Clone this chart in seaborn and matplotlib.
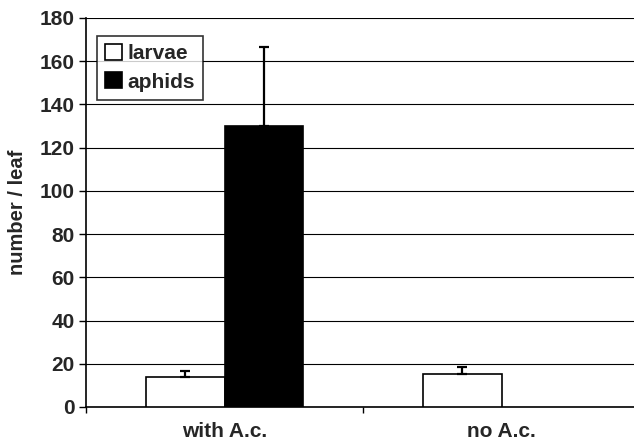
import numpy as np
import pandas as pd
import matplotlib
matplotlib.use("Agg")
import matplotlib.pyplot as plt
import seaborn as sns
from matplotlib.patches import Patch

# data
groups = ["with A.c.", "no A.c."]
series = ["larvae", "aphids"]
larvae_mean = [14, 15.5]
larvae_err = [2.7, 3.2]
aphids_mean = [130, 0]
aphids_err = [36.5, 0]
yticks = list(range(0, 181, 20))

sns.set_theme(style="white")
plt.rcParams["font.family"] = ["Liberation Sans", "DejaVu Sans"]
plt.rcParams["font.weight"] = "bold"

df = pd.DataFrame({
    "group": groups * 2,
    "kind": ["larvae"] * 2 + ["aphids"] * 2,
    "value": larvae_mean + aphids_mean,
})
errs = {"larvae": larvae_err, "aphids": aphids_err}

fig = plt.figure(figsize=(6.34, 4.45), dpi=100)
ax = fig.add_axes([86 / 634, 1 - 407 / 445, 554 / 634, 389 / 445])

sns.barplot(data=df, x="group", y="value", hue="kind", hue_order=series,
            order=groups, palette={"larvae": "white", "aphids": "black"},
            edgecolor="black", linewidth=1.2, width=0.57, errorbar=None,
            legend=False, ax=ax, zorder=3)

# one-sided error bars on top of each bar
for cont, name in zip(ax.containers, series):
    for bar, e in zip(cont, errs[name]):
        if bar.get_height() <= 0:
            bar.set_visible(False)
        if e <= 0:
            continue
        x = bar.get_x() + bar.get_width() / 2
        ax.errorbar(x, bar.get_height(), yerr=[[0], [e]], fmt="none",
                    ecolor="black", elinewidth=1.6, capsize=3.5,
                    capthick=1.6, zorder=4)

ax.set_xlim(-0.5, 1.5)
ax.set_ylim(0, 180)
ax.set_yticks(yticks)
ax.yaxis.grid(True, color="black", linewidth=0.8, zorder=0)
ax.set_axisbelow(True)

for s in ["top", "right"]:
    ax.spines[s].set_visible(False)
for s in ["left", "bottom"]:
    ax.spines[s].set_color("black")
    ax.spines[s].set_linewidth(1.2)

ax.set_xticks([0, 1])
ax.set_xticklabels(groups, fontsize=15, fontweight="bold")
ax.set_xticks([-0.5, 0.5, 1.5], minor=True)
ax.tick_params(axis="x", which="major", length=0, pad=11)
ax.tick_params(axis="x", which="minor", bottom=True, length=4, width=1, color="black")
ax.tick_params(axis="y", left=True, length=5, width=1, color="black",
               labelsize=15, pad=3)
for t in ax.get_yticklabels():
    t.set_fontweight("bold")

ax.set_xlabel("")
ax.set_ylabel("number / leaf", fontsize=14.5, fontweight="bold", labelpad=9)

handles = [Patch(facecolor="white", edgecolor="black", linewidth=1.2),
           Patch(facecolor="black", edgecolor="black", linewidth=1.2)]
leg = ax.legend(handles, series, loc="upper left", bbox_to_anchor=(0.02, 0.955),
                frameon=True, fancybox=False, edgecolor="black", fontsize=15,
                handlelength=0.8, handleheight=0.8, handletextpad=0.25,
                borderpad=0.4, labelspacing=0.45, borderaxespad=0)
leg.get_frame().set_linewidth(1.2)
for t in leg.get_texts():
    t.set_fontweight("bold")

fig.savefig("out.png", dpi=100)
